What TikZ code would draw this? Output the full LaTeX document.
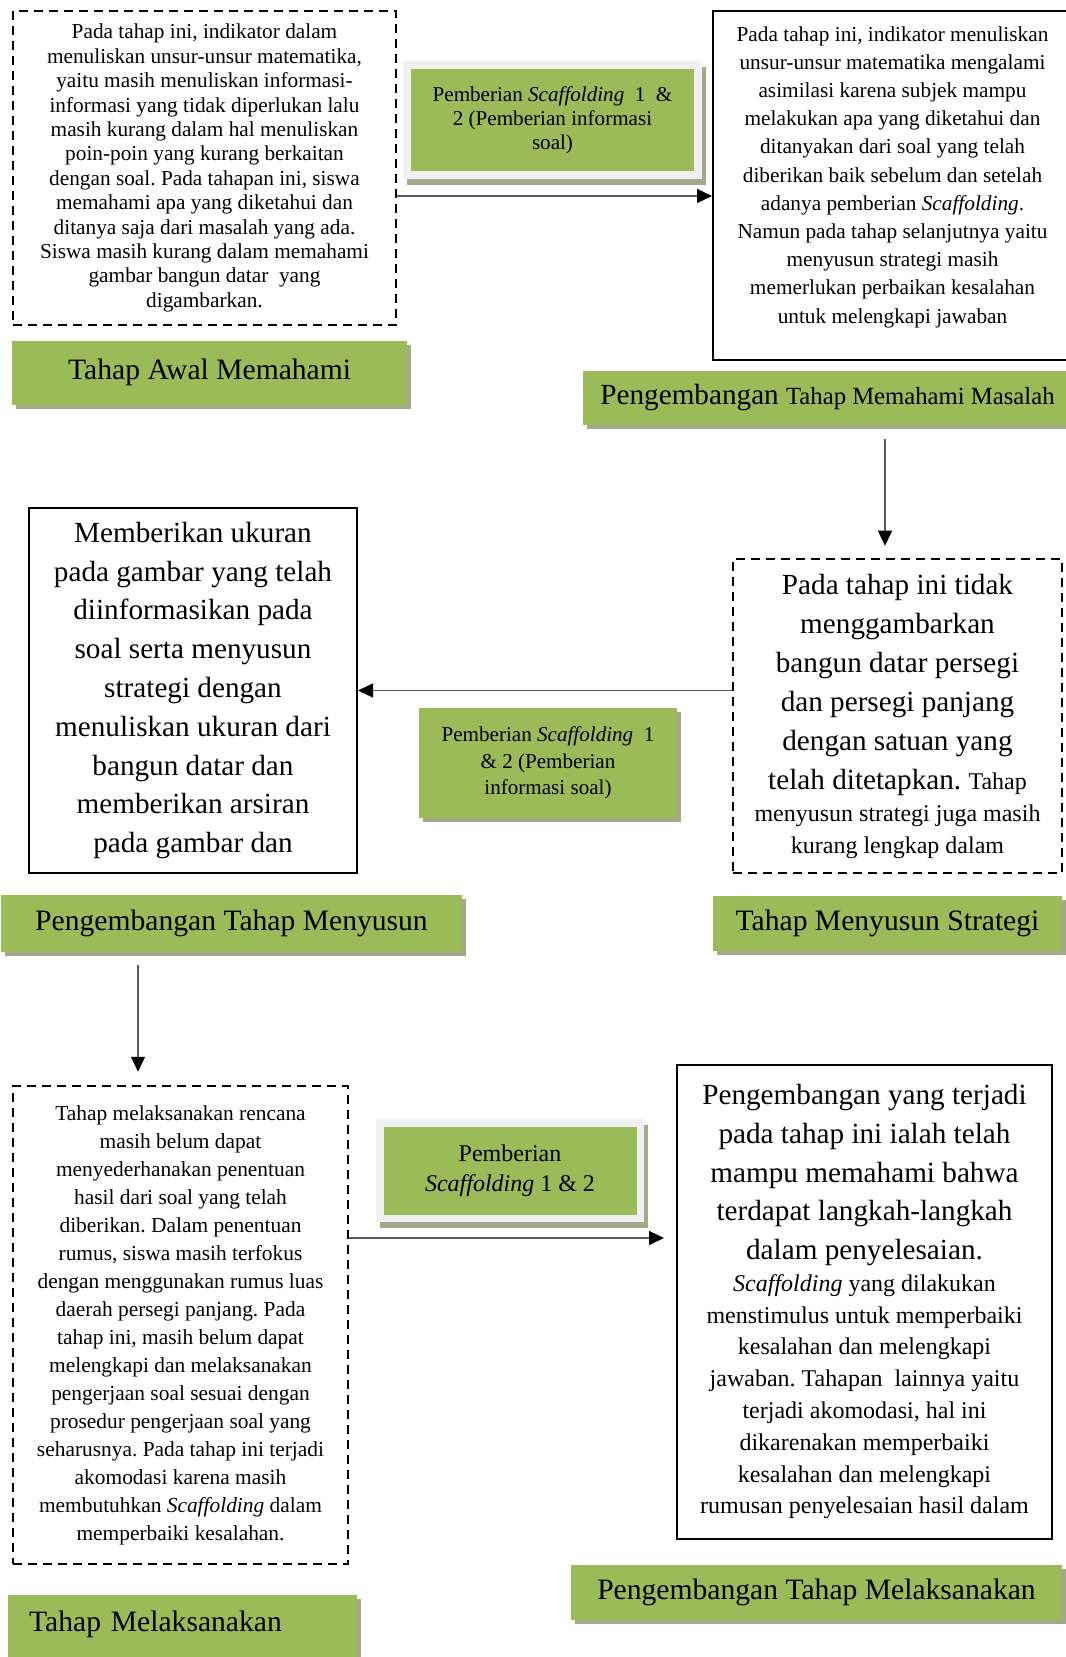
\documentclass[tikz,border=0pt]{standalone}
\usepackage{fontspec}
\setmainfont{Liberation Serif}
\usetikzlibrary{positioning}
\usetikzlibrary{arrows.meta}
\usetikzlibrary{shadows}
\frenchspacing

\definecolor{leafgreen}{HTML}{9BBB59}
\definecolor{shadegray}{RGB}{163,170,140}
\definecolor{framegray}{HTML}{F0F0F0}
\definecolor{linegray}{HTML}{595959}

\begin{document}
\begin{tikzpicture}[x=0.5pt, y=-0.5pt,
    dashedbox/.style={rectangle, draw, dash pattern=on 4.5pt off 3pt, line width=1.25pt, align=flush center, inner sep=2pt},
    solidbox/.style={rectangle, draw, line width=1pt, align=flush center, inner sep=2pt},
    plaintext/.style={align=flush center, inner sep=0pt},
    stagelabel/.style={rectangle, fill=leafgreen, inner sep=0pt, font=\fontsize{14.8pt}{19pt}\selectfont,
                       drop shadow={fill=shadegray, opacity=1, shadow xshift=2pt, shadow yshift=-2pt}},
    scaffold/.style={rectangle, fill=leafgreen, align=center, inner sep=0pt},
    framed/.style={fill=framegray, path picture={\fill[leafgreen] ([shift={(#1,-#1)}]path picture bounding box.north west)
                       rectangle ([shift={(-#1,#1)}]path picture bounding box.south east);}},
    framed/.default=4pt,
    flow/.style={draw=linegray, line width=0.6pt, -{Triangle[length=7.5pt, width=7pt, color=black]}},
  ]
  \useasboundingbox (0,0) rectangle (1065,1657);

  %Boxes
  \node[dashedbox, minimum width=191.5pt, minimum height=157pt, text width=180pt,
        font=\fontsize{10.65pt}{12.2pt}\selectfont]   (awal)   at (204.5,168)
    {Pada tahap ini, indikator dalam\\ menuliskan unsur-unsur matematika,\\ yaitu masih menuliskan informasi-\\
     informasi yang tidak diperlukan lalu\\ masih kurang dalam hal menuliskan\\ poin-poin yang kurang berkaitan\\
     dengan soal. Pada tahapan ini, siswa\\ memahami apa yang diketahui dan\\ ditanya saja dari masalah yang ada.\\
     Siswa masih kurang dalam memahami\\ gambar bangun datar\ \ yang\\ digambarkan.};

  \node[solidbox, minimum width=179.5pt, minimum height=174.5pt]   (memahami)   at (892.5,185.5) {};
  \node[plaintext, text width=175pt, font=\fontsize{10.65pt}{14.1pt}\selectfont]   (memahamitxt)   [below=8pt of memahami.north]
    {Pada tahap ini, indikator menuliskan\\ unsur-unsur matematika mengalami\\ asimilasi karena subjek mampu\\
     melakukan apa yang diketahui dan\\ ditanyakan dari soal yang telah\\ diberikan baik sebelum dan setelah\\
     adanya pemberian \textit{Scaffolding}.\\ Namun pada tahap selanjutnya yaitu\\ menyusun strategi masih\\
     memerlukan perbaikan kesalahan\\ untuk melengkapi jawaban};

  \node[solidbox, minimum width=164pt, minimum height=182.5pt, text width=158pt,
        font=\fontsize{14.6pt}{19.4pt}\selectfont]   (susun)   at (193,690.5)
    {Memberikan ukuran\\ pada gambar yang telah\\ diinformasikan pada\\ soal serta menyusun\\ strategi dengan\\
     menuliskan ukuran dari\\ bangun datar dan\\ memberikan arsiran\\ pada gambar dan};

  \node[dashedbox, minimum width=164.5pt, minimum height=157pt, text width=160pt,
        font=\fontsize{14.6pt}{19.5pt}\selectfont]   (strategi)   at (897.5,716)
    {Pada tahap ini tidak\\ menggambarkan\\ bangun datar persegi\\ dan persegi panjang\\ dengan satuan yang\\
     telah ditetapkan. {\fontsize{12pt}{16pt}\selectfont Tahap}\par
     {\fontsize{12pt}{16pt}\selectfont menyusun strategi juga masih\\ kurang lengkap dalam\par}};

  \node[dashedbox, minimum width=167.5pt, minimum height=239pt, text width=160pt,
        font=\fontsize{10.7pt}{14pt}\selectfont]   (laksana)   at (180.5,1325)
    {Tahap melaksanakan rencana\\ masih belum dapat\\ menyederhanakan penentuan\\ hasil dari soal yang telah\\
     diberikan. Dalam penentuan\\ rumus, siswa masih terfokus\\ dengan menggunakan rumus luas\\
     daerah persegi panjang. Pada\\ tahap ini, masih belum dapat\\ melengkapi dan melaksanakan\\
     pengerjaan soal sesuai dengan\\ prosedur pengerjaan soal yang\\ seharusnya. Pada tahap ini terjadi\\
     akomodasi karena masih\\ membutuhkan \textit{Scaffolding} dalam\\ memperbaiki kesalahan.};

  \node[solidbox, minimum width=187.5pt, minimum height=237pt]   (hasil)   at (864.5,1302) {};
  \node[plaintext, text width=182pt, font=\fontsize{14.6pt}{19.35pt}\selectfont]   (hasiltxt)   [below=10pt of hasil.north]
    {Pengembangan yang terjadi\\ pada tahap ini ialah telah\\ mampu memahami bahwa\\ terdapat langkah-langkah\\
     dalam penyelesaian.\par
     {\fontsize{12pt}{15.9pt}\selectfont \textit{Scaffolding} yang dilakukan\\ menstimulus untuk memperbaiki\\
     kesalahan dan melengkapi\\ jawaban. Tahapan\ \ lainnya yaitu\\ terjadi akomodasi, hal ini\\
     dikarenakan memperbaiki\\ kesalahan dan melengkapi\\ rumusan penyelesaian hasil dalam\par}};

  %Scaffolding boxes
  \node[scaffold, framed, minimum width=149.5pt, minimum height=59pt, font=\fontsize{10.55pt}{12pt}\selectfont,
        drop shadow={fill=shadegray, opacity=1, shadow xshift=2pt, shadow yshift=-3pt}]   (scaf1)   at (552.5,120)
    {Pemberian \textit{Scaffolding}\ \ 1\ \ \&\\ 2 (Pemberian informasi\\ soal)};
  \node[scaffold, minimum width=129pt, minimum height=55pt, font=\fontsize{10.55pt}{13.25pt}\selectfont,
        drop shadow={fill=shadegray, opacity=1, shadow xshift=2pt, shadow yshift=-2pt}]   (scaf2)   at (548,763)
    {Pemberian \textit{Scaffolding}\ \ 1\\ \& 2 (Pemberian\\ informasi soal)};
  \node[scaffold, framed=3.75pt, minimum width=134pt, minimum height=51.5pt, font=\fontsize{12pt}{15pt}\selectfont,
        drop shadow={fill=shadegray, opacity=1, shadow xshift=2pt, shadow yshift=-3pt}]   (scaf3)   at (510,1170.5)
    {Pemberian\\ \textit{Scaffolding} 1 \& 2};

  %Labels
  \node[stagelabel, minimum width=197.5pt, minimum height=32pt]   (lawal)   [below right=7pt and 0pt of awal.south west]
    {Tahap Awal Memahami};
  \node[stagelabel, minimum width=244.5pt, minimum height=27pt, font=\fontsize{14.6pt}{19pt}\selectfont]   (lmemahami)   at (827.5,398)
    {Pengembangan {\fontsize{12.35pt}{15pt}\selectfont Tahap Memahami Masalah}};
  \node[stagelabel, minimum width=230.5pt, minimum height=28.5pt]   (lsusun)   at (231.5,923.5)
    {Pengembangan Tahap Menyusun};
  \node[stagelabel, minimum width=174.5pt, minimum height=27.5pt]   (lstrategi)   at (887.5,923.5)
    {Tahap Menyusun Strategi};
  \node[stagelabel, text width=153.5pt, align=left, inner xsep=10.5pt, inner ysep=6.5pt,
        text height=12pt, text depth=20pt]   (llaksana)   [below right=14.5pt and -2pt of laksana.south west]
    {Tahap Melaksanakan};
  \node[stagelabel, minimum width=245.5pt, minimum height=27.5pt]   (lhasil)   at (816.5,1592.5)
    {Pengembangan Tahap Melaksanakan};

  %Arrows
  \coordinate (a1) at ([yshift=-14pt]awal.east);
  \coordinate (a2) at ([xshift=28.75pt,yshift=-7pt]lmemahami.south);
  \coordinate (a4) at ([xshift=-46.75pt,yshift=-6.5pt]lsusun.south);
  \coordinate (a5) at ([yshift=43.5pt]laksana.east);
  \draw[flow] (a1) -- (a1 -| memahami.west);
  \draw[flow, shorten >=6pt] (a2) -- (a2 |- strategi.north);
  \draw[flow] (strategi.west |- susun.east) -- (susun.east);
  \draw[flow, shorten >=6.5pt] (a4) -- (a4 |- laksana.north);
  \draw[flow, shorten >=6pt] (a5) -- (a5 -| hasil.west);
\end{tikzpicture}
\end{document}
